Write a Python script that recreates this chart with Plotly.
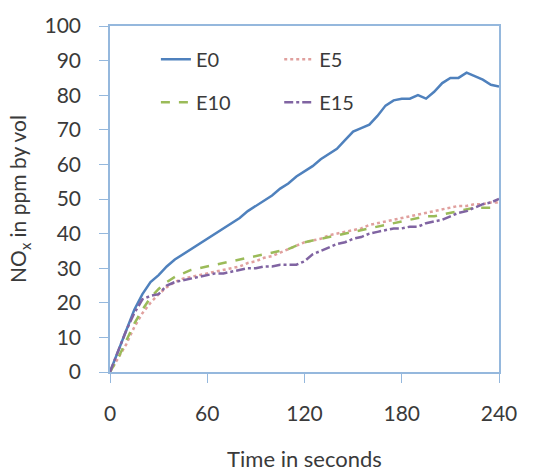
import plotly.graph_objects as go

time_s = list(range(0, 245, 5))

e0 = [0, 6, 12, 18, 22.5, 26, 28, 30.5, 32.5, 34, 35.5, 37, 38.5, 40, 41.5, 43, 44.5,
      46.5, 48, 49.5, 51, 53, 54.5, 56.5, 58, 59.5, 61.5, 63, 64.5, 67, 69.5, 70.5, 71.5,
      74, 77, 78.5, 79, 79, 80, 79, 81, 83.5, 85, 85, 86.5, 85.5, 84.5, 83, 82.5]
e5 = [0, 4, 8, 13, 17, 20, 22.5, 24.5, 26, 27, 27.5, 28, 28.5, 29, 29.5, 30, 30.5,
      31.5, 32, 33, 33.5, 34.5, 35.5, 36.5, 37.5, 38, 38.5, 39.5, 40, 40.5, 41, 41.5, 42.5,
      43, 43.5, 44, 44.5, 45, 45.5, 46, 46.5, 47, 47.5, 48, 48, 48.5, 48.5, 49, 49]
e10 = [0, 4, 9, 14, 18, 21.5, 24, 26, 27.5, 28.5, 29.5, 30, 30.5, 31, 31.5, 32, 32.5,
       33, 33.5, 34, 34.5, 35, 35.5, 36.5, 37.5, 38, 38.5, 39, 39.5, 40, 40.5, 41, 41.5,
       42, 42.5, 43, 43.5, 44, 44.5, 45, 45, 45.5, 46, 46.5, 47, 47.5, 47.5, 47.5, 48]
e15 = [0, 6, 12, 17, 21, 22, 22.5, 25, 26, 26.5, 27, 27.5, 28, 28.5, 28.5, 29, 29.5,
       30, 30, 30.5, 30.5, 31, 31, 31, 32, 34, 35, 36, 37, 37.5, 38.5, 39, 40,
       40.5, 41, 41.5, 41.5, 42, 42, 43, 43.5, 44, 45, 46, 46.5, 47.5, 48.5, 49, 50]

series_names = ["E0", "E5", "E10", "E15"]
series_vals = [e0, e5, e10, e15]
colors = ["#4F81BD", "#E0A09E", "#9BBB59", "#8064A2"]
dashes = ["solid", "dot", "dash", "dashdot"]
legends = ["legend", "legend2", "legend", "legend2"]

font_family = "Lato, 'Open Sans', sans-serif"
text_col = "#3A3A3A"
axis_col = "#95B8DD"

fig = go.Figure()
for name, vals, col, dsh, lg in zip(series_names, series_vals, colors, dashes, legends):
    fig.add_trace(go.Scatter(
        x=time_s, y=vals, mode="lines", name=name,
        line=dict(color=col, width=2.5, dash=dsh),
        legend=lg, legendgroup=name,
    ))

leg_common = dict(
    yanchor="top", xanchor="left", bgcolor="rgba(0,0,0,0)",
    font=dict(family=font_family, size=20, color=text_col),
    tracegroupgap=14, orientation="v",
)

fig.update_layout(
    width=538, height=475,
    margin=dict(l=110, r=39, t=26, b=103, autoexpand=False),
    paper_bgcolor="white", plot_bgcolor="white",
    font=dict(family=font_family, color=text_col),
    legend=dict(x=0.118, y=0.96, **leg_common),
    legend2=dict(x=0.435, y=0.96, **leg_common),
    xaxis=dict(
        range=[0, 240], tickvals=[0, 60, 120, 180, 240],
        showline=True, linecolor=axis_col, linewidth=1.5, mirror=True,
        ticks="outside", ticklen=9, tickcolor=axis_col,
        showgrid=False, zeroline=False, automargin=False,
        tickfont=dict(size=21, color=text_col),
        ticklabelstandoff=13,
        title=dict(text="Time in seconds", font=dict(size=22, color=text_col), standoff=28),
    ),
    yaxis=dict(
        range=[0, 100], tickvals=list(range(0, 101, 10)),
        showline=True, linecolor=axis_col, linewidth=1.5, mirror=True,
        ticks="outside", ticklen=9, tickcolor=axis_col,
        showgrid=False, zeroline=False, automargin=False,
        tickfont=dict(size=21, color=text_col),
        ticklabelstandoff=14,
        title=dict(text="NO<sub>x</sub> in ppm by vol", font=dict(size=21, color=text_col), standoff=12),
    ),
)

fig.write_html("out.html")
